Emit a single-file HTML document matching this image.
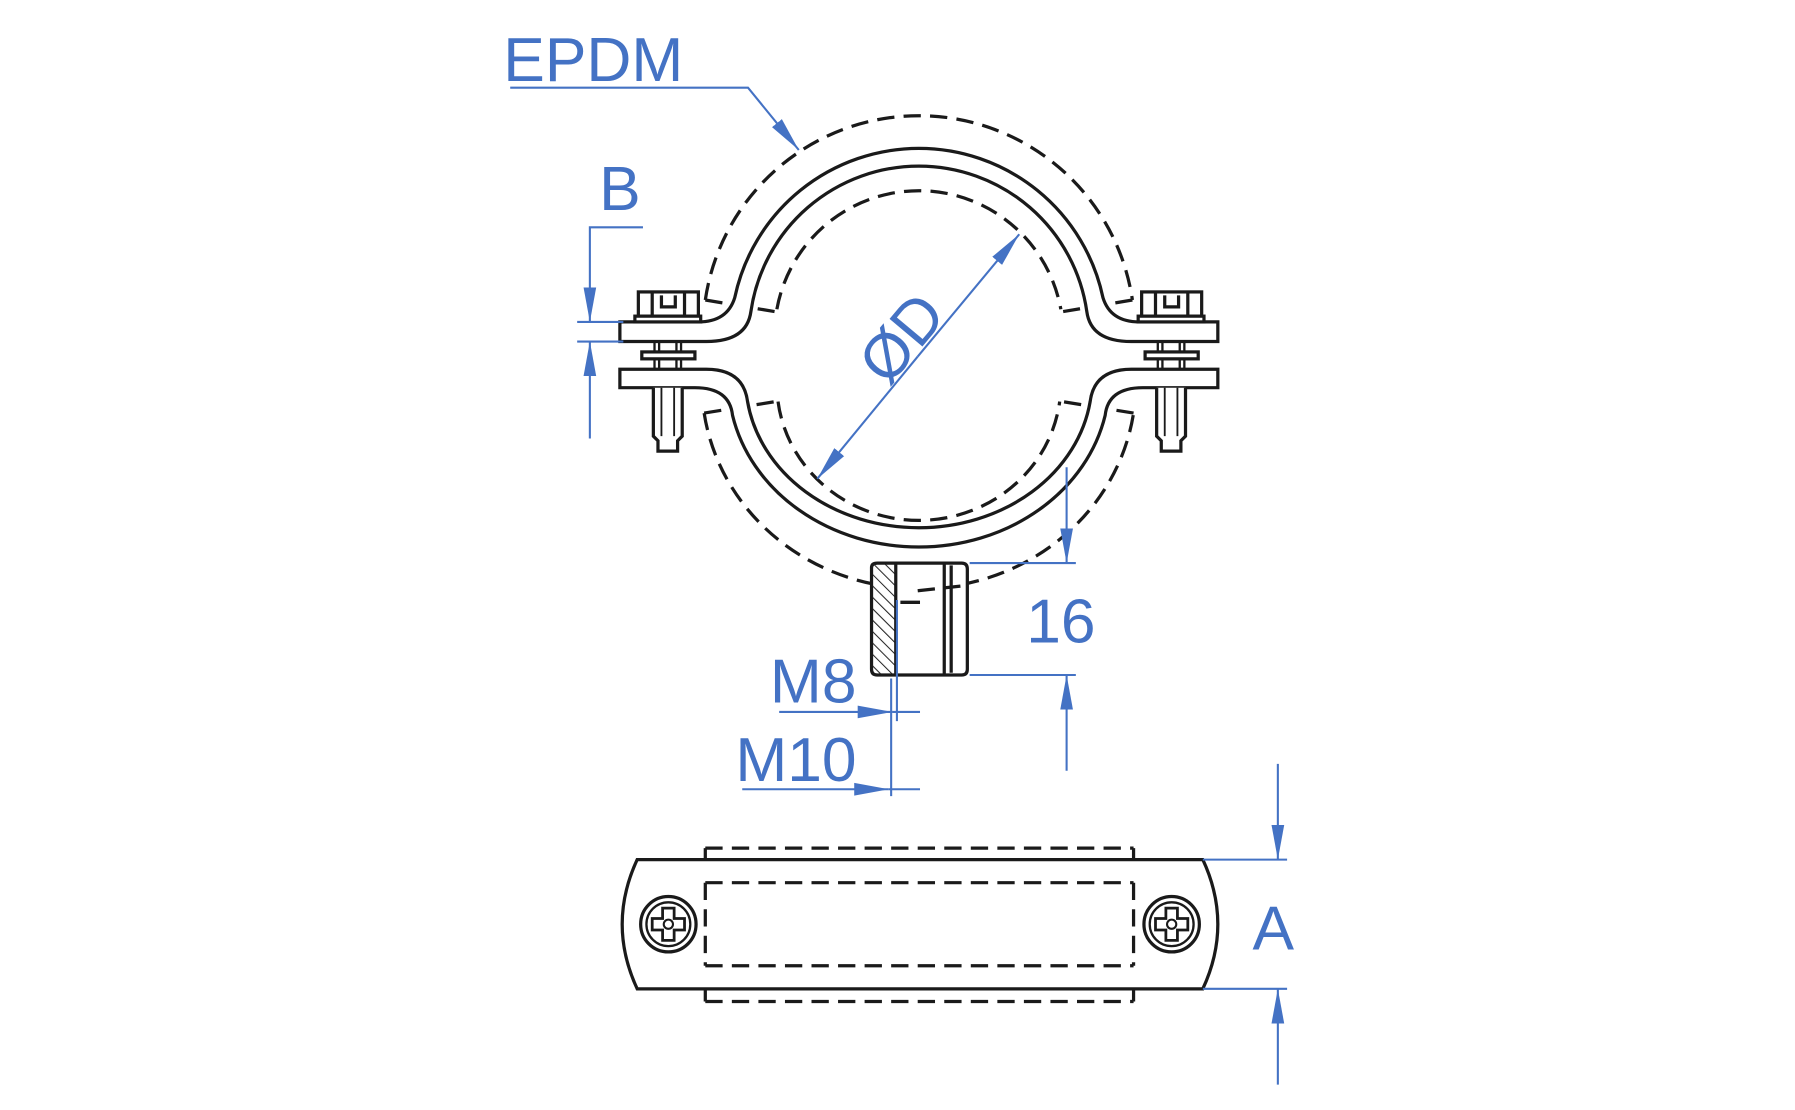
<!DOCTYPE html>
<html><head><meta charset="utf-8"><style>html,body{margin:0;padding:0;background:#fff}svg{display:block}</style></head><body>
<svg width="1795" height="1110" viewBox="0 0 1555 962" preserveAspectRatio="none" xmlns="http://www.w3.org/2000/svg">
<defs>
<marker id="ar" viewBox="0 0 30 12" refX="30" refY="6" markerWidth="30" markerHeight="12" markerUnits="userSpaceOnUse" orient="auto"><path d="M0,0.5 L30,6 L0,11.5 Z" fill="#4472c4"/></marker>
<pattern id="hat" width="7" height="7" patternUnits="userSpaceOnUse" patternTransform="rotate(-45)"><line x1="0" y1="0" x2="0" y2="7" stroke="#222" stroke-width="1.8"/></pattern>
</defs>
<g fill="none" stroke="#1a1a1a" stroke-width="2.8">
<g stroke-dasharray="15,8">
<path d="M611,260 A187,187 0 0 1 981,260"/>
<path d="M673,268 A125,125 0 0 1 919,268"/>
<path d="M611,260 L671,270"/><path d="M981,260 L921,270"/>
<path d="M674,348 A123,118 0 0 0 918,348"/>
<path d="M610,358 A188,178 0 0 0 982,358"/>
<path d="M610,358 L672,348"/><path d="M982,358 L920,348"/>
</g>
<path fill="#fff" d="M537,279 L605,279 Q630,279 636.5,258 A163,163 0 0 1 955.5,258 Q962,279 987,279 L1055,279 L1055,296 L980,296 Q945,296 941.5,270 A147,147 0 0 0 650.5,270 Q647,296 612,296 L537,296 Z"/>
<path fill="#fff" d="M537,320 L612,320 Q644,320 647.6,348 A150,128 0 0 0 944.4,348 Q948,320 980,320 L1055,320 L1055,336 L990,336 Q960,336 957.4,360 A165,144 0 0 1 634.6,360 Q632,336 602,336 L537,336 Z"/>
<g id="bolt">
<rect x="553" y="253" width="52" height="21" fill="#fff"/>
<path d="M565,253 V274 M593,253 V274 M573,256 V266 H585 V256"/>
<rect x="550" y="274" width="57" height="5" fill="#fff"/>
<path d="M567,296 V320 M590,296 V320 M571,296 V320 M586,296 V320" stroke-width="2"/>
<rect x="556" y="305" width="46" height="6" fill="#fff"/>
<path d="M566,336 V378 L570,382 V391 H587 V382 L591,378 V336" fill="#fff"/>
<path d="M573,336 V378 M584,336 V378" stroke-width="1.6"/>
</g>
<use href="#bolt" transform="translate(436,0)"/>
<path d="M755,492 Q755,488 760,488 H833 Q838,488 838,493 V580 Q838,585 833,585 H760 Q755,585 755,580 Z" fill="#fff"/>
<rect x="756" y="489" width="20" height="95" fill="url(#hat)" stroke="none"/>
<path d="M776,488 V585 M818,488 V585 M824,490 V583"/>
<path d="M780,522 H797" stroke-width="3"/>
<path d="M795,512 L832,508" stroke-dasharray="15,8"/>
<path d="M552,745 H1042 Q1068,801 1042,857 H552 Q526,801 552,745 Z"/>
<g stroke-dasharray="15,8">
<path d="M611,735 H982 M611,868 H982 M611,765 H982 M611,837 H982 M611,765 V837 M982,765 V837"/>
</g>
<path d="M611,735 V745 M982,735 V745 M611,857 V868 M982,857 V868"/>
<g id="scr">
<circle cx="579" cy="801" r="24"/><circle cx="579" cy="801" r="19" stroke-width="2"/>
<path d="M574,787 H584 V796 H593 V806 H584 V815 H574 V806 H565 V796 H574 Z" stroke-width="2.4"/>
<circle cx="579" cy="801" r="4" stroke-width="1.8"/>
</g>
<use href="#scr" transform="translate(436,0)"/>
</g>
<g stroke="#4472c4" stroke-width="1.8" fill="none">
<path d="M442,76 H648 L692,130" marker-end="url(#ar)"/>
<path d="M557,197 H511 V279" marker-end="url(#ar)"/>
<path d="M511,380 V296" marker-end="url(#ar)"/>
<path d="M500,279 H540 M500,296 H540"/>
<path d="M795,309 L883,203" marker-end="url(#ar)"/>
<path d="M795,309 L708,415" marker-end="url(#ar)"/>
<path d="M840,488 H932 M840,585 H932"/>
<path d="M924,405 V488" marker-end="url(#ar)"/>
<path d="M924,668 V585" marker-end="url(#ar)"/>
<path d="M675,617 H773" marker-end="url(#ar)"/><path d="M773,617 H797"/>
<path d="M643,684 H770" marker-end="url(#ar)"/><path d="M770,684 H797"/>
<path d="M777,520 V625 M772,588 V690"/>
<path d="M1042,745 H1115 M1042,857 H1115"/>
<path d="M1107,662 V745" marker-end="url(#ar)"/>
<path d="M1107,940 V857" marker-end="url(#ar)"/>
</g>
<g fill="#4472c4" font-family="Liberation Sans, sans-serif" font-size="54">
<text x="436" y="70">EPDM</text>
<text x="519" y="182">B</text>
<text x="889" y="557">16</text>
<text x="667" y="609">M8</text>
<text x="637" y="677">M10</text>
<text x="1085" y="823">A</text>
<text x="780" y="312" text-anchor="middle" transform="rotate(-50 780 292)">ØD</text>
</g>
</svg>
</body></html>
